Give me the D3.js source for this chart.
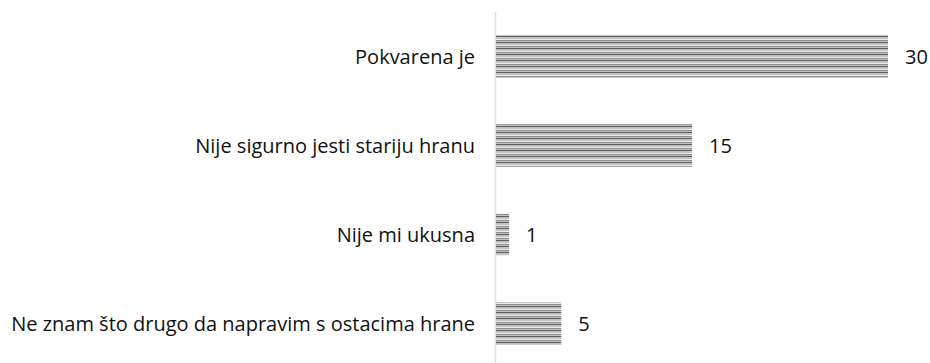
<!DOCTYPE html>
<html>
<head>
<meta charset="utf-8">
<script src="https://cdn.jsdelivr.net/npm/d3@7"></script>
<style>
  html, body { margin: 0; padding: 0; background: #fff; }
  svg { display: block; }
</style>
</head>
<body>
<script>
// Reasons for throwing food away
const categories = [
  "Pokvarena je",
  "Nije sigurno jesti stariju hranu",
  "Nije mi ukusna",
  "Ne znam što drugo da napravim s ostacima hrane"
];
const values = [30, 15, 1, 5];

const width = 930, height = 363;
const svg = d3.select("body").append("svg")
  .attr("width", width).attr("height", height);

// Horizontal-line hatch fill
const defs = svg.append("defs");
const pat = defs.append("pattern")
  .attr("id", "hatch")
  .attr("patternUnits", "userSpaceOnUse")
  .attr("width", 8).attr("height", 6);
pat.append("rect").attr("width", 8).attr("height", 6).attr("fill", "#c2c2c2");
pat.append("rect").attr("y", 0).attr("width", 8).attr("height", 1).attr("fill", "#5e5e5e");
pat.append("rect").attr("y", 3).attr("width", 8).attr("height", 1).attr("fill", "#ececec");
pat.append("rect").attr("y", 4).attr("width", 8).attr("height", 1).attr("fill", "#8e8e8e");

const x = d3.scaleLinear().domain([0, 30]).range([496, 888]);
const y = d3.scaleBand().domain(categories).range([12, 368]).paddingInner(0.52).paddingOuter(0.26);

// Category axis line
svg.append("line")
  .attr("x1", 495.5).attr("x2", 495.5)
  .attr("y1", 12).attr("y2", 363)
  .attr("stroke", "#dcdcee").attr("stroke-width", 1.5);

svg.selectAll("rect.bar")
  .data(values)
  .join("rect")
  .attr("class", "bar")
  .attr("x", x(0))
  .attr("y", (d, i) => y(categories[i]))
  .attr("width", d => x(d) - x(0))
  .attr("height", y.bandwidth())
  .attr("fill", "url(#hatch)");

const font = "'Open Sans', Lato, sans-serif";

svg.selectAll("text.cat")
  .data(categories)
  .join("text")
  .attr("class", "cat")
  .attr("x", 475)
  .attr("y", d => y(d) + y.bandwidth() / 2)
  .attr("dy", "0.35em")
  .attr("text-anchor", "end")
  .attr("font-family", font)
  .attr("font-size", 20)
  .attr("fill", "#111")
  .text(d => d);

svg.selectAll("text.val")
  .data(values)
  .join("text")
  .attr("class", "val")
  .attr("x", d => x(d) + 17)
  .attr("y", (d, i) => y(categories[i]) + y.bandwidth() / 2)
  .attr("dy", "0.35em")
  .attr("font-family", font)
  .attr("font-size", 20)
  .attr("fill", "#111")
  .text(d => d);
</script>
</body>
</html>
